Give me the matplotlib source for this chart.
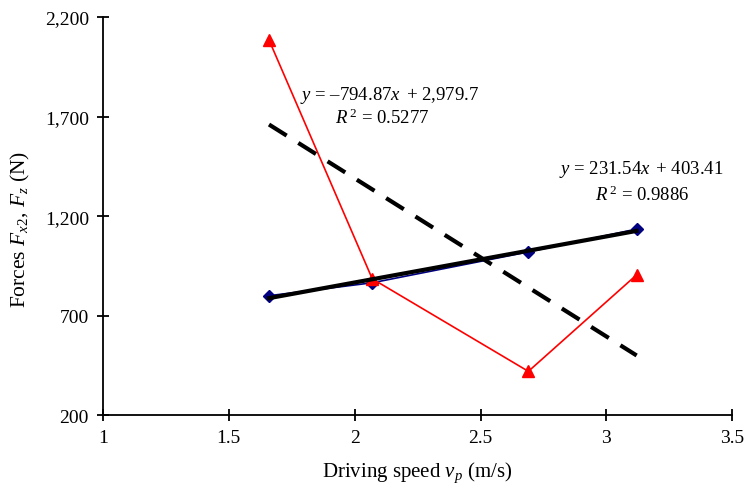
import matplotlib
matplotlib.use("Agg")
import matplotlib.pyplot as plt
import numpy as np
from matplotlib.ticker import FuncFormatter

plt.rcParams["font.family"] = ["Liberation Serif", "DejaVu Serif"]
plt.rcParams["mathtext.fontset"] = "custom"
plt.rcParams["mathtext.rm"] = "Liberation Serif"
plt.rcParams["mathtext.it"] = "Liberation Serif:italic"

# speed (m/s)
speed = [1.66, 2.07, 2.69, 3.12]
# forces (N)
force_fx2 = [800, 865, 1020, 1135]
force_fz = [2085, 885, 420, 905]

# trend line coefficients shown on the chart
fit_fx2 = (231.54, 403.41)
fit_fz = (-794.87, 2979.7)

x_ticks = [1, 1.5, 2, 2.5, 3, 3.5]
y_ticks = [200, 700, 1200, 1700, 2200]


def main():
    fig = plt.figure(figsize=(7.45, 4.89), dpi=100)
    ax = fig.add_axes([0.138, 0.149, 0.845, 0.814])

    xs = np.array([speed[0], speed[-1]])
    ax.plot(speed, force_fx2, color="#000080", marker="D", markersize=6, lw=1.2, zorder=3)
    ax.plot(speed, force_fz, color="#ff0000", marker="^", markersize=8, lw=1.2, zorder=3)
    ax.plot(xs, fit_fx2[0] * xs + fit_fx2[1], color="black", lw=3, zorder=4)
    ax.plot(xs, fit_fz[0] * xs + fit_fz[1], color="black", lw=3, ls=(0, (5, 3.3)), zorder=4)

    fs = 13.5
    ax.text(2.14, 1813, r"$y$ = –794.87$x$ $\,$+ 2,979.7", ha="center", va="center", fontsize=fs)
    ax.text(2.11, 1695, r"$R^{\,2}$ = 0.5277", ha="center", va="center", fontsize=fs)
    ax.text(3.14, 1437, r"$y$ = 231.54$x$ $\,$+ 403.41", ha="center", va="center", fontsize=fs)
    ax.text(3.14, 1310, r"$R^{\,2}$ = 0.9886", ha="center", va="center", fontsize=fs)

    ax.set_xlim(1, 3.5)
    ax.set_ylim(200, 2200)
    ax.set_xticks(x_ticks)
    ax.set_yticks(y_ticks)
    ax.xaxis.set_major_formatter(FuncFormatter(lambda v, p: f"{v:g}"))
    ax.yaxis.set_major_formatter(FuncFormatter(lambda v, p: f"{int(v):,}"))
    ax.tick_params(direction="inout", length=8, width=1.3, labelsize=14, pad=6)

    for side in ("top", "right"):
        ax.spines[side].set_visible(False)
    for side in ("left", "bottom"):
        ax.spines[side].set_linewidth(1.3)

    ax.set_xlabel(r"Driving speed $v_p$ (m/s)", fontsize=15, labelpad=10)
    ax.set_ylabel(r"Forces $F_{x2}$, $F_z$ (N)", fontsize=15.5, labelpad=10)
    ax.yaxis.set_label_coords(-0.112, 0.47)

    fig.savefig("out.png", dpi=100)
    plt.close(fig)


if __name__ == "__main__":
    main()
